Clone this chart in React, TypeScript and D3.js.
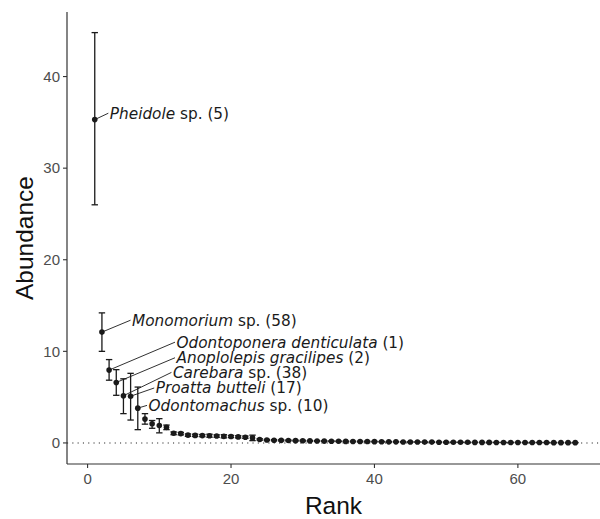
import React from "react";
import * as d3 from "d3";

const ranks = d3.range(1, 69);
const abundance = [
  35.3, 12.1, 7.95, 6.6, 5.15, 5.1, 3.8, 2.6, 2.1, 1.9,
  1.7, 1.05, 1.02, 0.85, 0.82, 0.8, 0.78, 0.75, 0.72, 0.7,
  0.66, 0.62, 0.55, 0.38, 0.32, 0.3, 0.28, 0.27, 0.25, 0.24,
  0.22, 0.21, 0.2, 0.19, 0.18, 0.17, 0.16, 0.15, 0.15, 0.14,
  0.13, 0.12, 0.12, 0.11, 0.1, 0.1, 0.09, 0.09, 0.08, 0.08,
  0.07, 0.07, 0.07, 0.06, 0.06, 0.06, 0.05, 0.05, 0.05, 0.05,
  0.04, 0.04, 0.04, 0.04, 0.03, 0.03, 0.03, 0.03,
];
const errLow = [
  26.0, 10.0, 6.85, 5.2, 3.2, 2.5, 1.45, 2.05, 1.6, 1.1,
  1.45, 0.9, 0.88, 0.72, 0.7, 0.68, 0.62, 0.62, 0.55, 0.58,
  0.55, 0.5, 0.25, 0.3, 0.26, 0.24, 0.22, 0.22, 0.2, 0.19,
  0.18, 0.17, 0.16, 0.15, 0.14, 0.13, 0.12, 0.11, 0.11, 0.1,
  0.1, 0.09, 0.09, 0.08, 0.07, 0.07, 0.06, 0.06, 0.05, 0.05,
  0.05, 0.05, 0.05, 0.04, 0.04, 0.04, 0.03, 0.03, 0.03, 0.03,
  0.02, 0.02, 0.02, 0.02, 0.01, 0.01, 0.01, 0.01,
];
const errHigh = [
  44.8, 14.2, 9.1, 8.0, 7.0, 7.6, 6.1, 3.2, 2.45, 2.65,
  1.95, 1.2, 1.15, 0.98, 0.95, 0.92, 0.95, 0.88, 0.9, 0.82,
  0.78, 0.75, 0.85, 0.46, 0.38, 0.36, 0.34, 0.32, 0.3, 0.29,
  0.26, 0.25, 0.24, 0.23, 0.22, 0.21, 0.2, 0.19, 0.19, 0.18,
  0.16, 0.15, 0.15, 0.14, 0.13, 0.13, 0.12, 0.12, 0.11, 0.11,
  0.09, 0.09, 0.09, 0.08, 0.08, 0.08, 0.07, 0.07, 0.07, 0.07,
  0.06, 0.06, 0.06, 0.06, 0.05, 0.05, 0.05, 0.05,
];

const labelRanks = [1, 2, 3, 4, 5, 6, 7];
const labelGenus = ["Pheidole", "Monomorium", "Odontoponera denticulata", "Anoplolepis gracilipes", "Carebara", "Proatta butteli", "Odontomachus"];
const labelSuffix = [" sp. (5)", " sp. (58)", " (1)", " (2)", " sp. (38)", " (17)", " sp. (10)"];
// label placement (data units, as placed by the repel layout)
const labelX = [3.1, 6.2, 12.4, 12.4, 11.9, 9.5, 8.5];
const labelY = [36.0, 13.4, 11.0, 9.3, 7.7, 6.0, 4.1];

const xTicks = [0, 20, 40, 60];
const yTicks = [0, 10, 20, 30, 40];

export default function App() {
  const W = 600, H = 519;
  const left = 67, right = 600, top = 12, bottom = 464;
  const x = d3.scaleLinear().domain([-2.87, 71.45]).range([left, right]);
  const y = d3.scaleLinear().domain([-2.3, 47.05]).range([bottom, top]);
  const tickFont = "'Liberation Sans', Arial, sans-serif";
  const labFont = "'DejaVu Sans', sans-serif";
  const ink = "#1a1a1a";

  return (
    <svg width={W} height={H} style={{ position: "absolute", left: 0, top: 0 }}>
      <rect x={0} y={0} width={W} height={H} fill="#fff" />
      {/* zero reference line */}
      <line x1={left} x2={right} y1={y(0)} y2={y(0)} stroke="#222" strokeWidth={1.1} strokeDasharray="1.1 4.2" />
      {/* error bars */}
      {ranks.map((r, i) => (
        <g key={"e" + r} stroke={ink} strokeWidth={1.3}>
          <line x1={x(r)} x2={x(r)} y1={y(errLow[i])} y2={y(errHigh[i])} />
          <line x1={x(r) - 3.2} x2={x(r) + 3.2} y1={y(errLow[i])} y2={y(errLow[i])} />
          <line x1={x(r) - 3.2} x2={x(r) + 3.2} y1={y(errHigh[i])} y2={y(errHigh[i])} />
        </g>
      ))}
      {/* points */}
      {ranks.map((r, i) => (
        <circle key={"p" + r} cx={x(r)} cy={y(abundance[i])} r={2.8} fill={ink} />
      ))}
      {/* label segments and labels */}
      {labelRanks.map((r, i) => {
        const px = x(r), py = y(abundance[r - 1]);
        const tx = x(labelX[i]), ty = y(labelY[i]);
        return (
          <g key={"l" + r}>
            <line x1={px} y1={py} x2={tx - 1.5} y2={ty} stroke={ink} strokeWidth={0.9} />
            <text x={tx} y={ty} dy="0.36em" fontFamily={labFont} fontSize={15.3} fill={ink}>
              <tspan fontStyle="italic">{labelGenus[i]}</tspan>
              <tspan>{labelSuffix[i]}</tspan>
            </text>
          </g>
        );
      })}
      {/* axes */}
      <line x1={left} x2={left} y1={top} y2={bottom} stroke="#333" strokeWidth={1.2} />
      <line x1={left} x2={right} y1={bottom} y2={bottom} stroke="#333" strokeWidth={1.2} />
      {yTicks.map((t) => (
        <g key={"yt" + t}>
          <line x1={left - 4} x2={left} y1={y(t)} y2={y(t)} stroke="#333" strokeWidth={1.1} />
          <text x={left - 7} y={y(t)} dy="0.35em" textAnchor="end" fontFamily={tickFont} fontSize={15} fill="#4d4d4d">{t}</text>
        </g>
      ))}
      {xTicks.map((t) => (
        <g key={"xt" + t}>
          <line x1={x(t)} x2={x(t)} y1={bottom} y2={bottom + 4} stroke="#333" strokeWidth={1.1} />
          <text x={x(t)} y={bottom + 20} textAnchor="middle" fontFamily={tickFont} fontSize={15} fill="#4d4d4d">{t}</text>
        </g>
      ))}
      <text x={(left + right) / 2} y={514} textAnchor="middle" fontFamily={tickFont} fontSize={24.5} fill="#111">Rank</text>
      <text transform={`translate(33, ${(top + bottom) / 2}) rotate(-90)`} textAnchor="middle" fontFamily={tickFont} fontSize={24.5} fill="#111">Abundance</text>
    </svg>
  );
}
